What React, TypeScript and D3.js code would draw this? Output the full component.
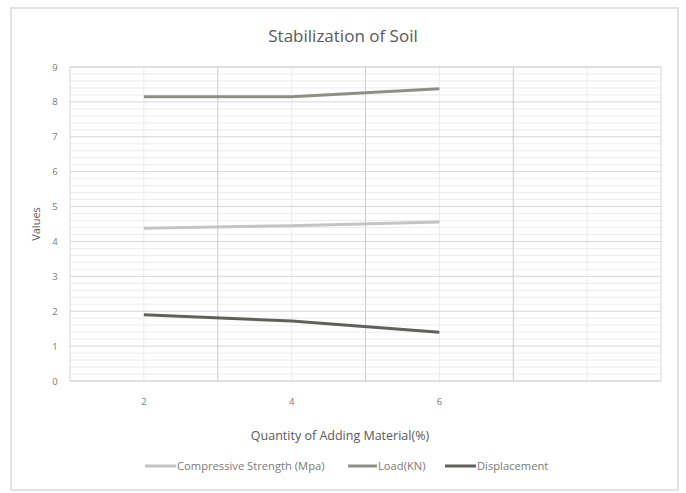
import React from "react";
import * as d3 from "d3";

const categories = ["2", "4", "6", ""];
const compressive = [4.38, 4.45, 4.56];
const load = [8.15, 8.15, 8.38];
const displacement = [1.9, 1.72, 1.4];
const yTicks = [0, 1, 2, 3, 4, 5, 6, 7, 8, 9];

const seriesNames = ["Compressive Strength (Mpa)", "Load(KN)", "Displacement"];
const seriesColors = ["#c4c4c4", "#8e9088", "#5f615b"];
const seriesData = [compressive, load, displacement];

const W = 686;
const H = 493;
const m = { left: 70, right: 661, top: 67, bottom: 381 };
const font = "'Open Sans', 'Liberation Sans', sans-serif";

export default function App() {
  const x = d3
    .scaleBand<string>()
    .domain(categories.map((c, i) => String(i)))
    .range([m.left, m.right])
    .padding(0);
  const y = d3.scaleLinear().domain([0, 9]).range([m.bottom, m.top]);
  const minor = d3.range(0, 9.001, 0.2).filter((v) => Math.abs(v - Math.round(v)) > 1e-6);
  const bw = x.bandwidth();
  const line = d3
    .line<number>()
    .x((d, i) => (x(String(i)) as number) + bw / 2)
    .y((d) => y(d));

  const boundaries = categories.map((_, i) => x(String(i)) as number).slice(1);
  const centers = categories.map((_, i) => (x(String(i)) as number) + bw / 2);

  const legend = [
    { lx: 145, tx: 177 },
    { lx: 348, tx: 378 },
    { lx: 445, tx: 477 },
  ];

  return (
    <svg width={W} height={H} style={{ position: "absolute", left: 0, top: 0, background: "#fff" }}>
      <rect x={11} y={8} width={667} height={482} fill="#fff" stroke="#d9d9d9" strokeWidth={1.5} />
      <text x={343} y={42} textAnchor="middle" fontFamily={font} fontSize={17} fill="#595959">
        Stabilization of Soil
      </text>
      {minor.map((v) => (
        <line key={"mn" + v} x1={m.left} x2={m.right} y1={y(v)} y2={y(v)} stroke="#ececec" strokeWidth={1} />
      ))}
      {centers.map((cx, i) => (
        <line key={"mv" + i} x1={cx} x2={cx} y1={m.top} y2={m.bottom} stroke="#ececec" strokeWidth={1} />
      ))}
      {yTicks.map((v) => (
        <line key={"g" + v} x1={m.left} x2={m.right} y1={y(v)} y2={y(v)} stroke="#d6d6d6" strokeWidth={1} />
      ))}
      {boundaries.map((bx, i) => (
        <line key={"v" + i} x1={bx} x2={bx} y1={m.top} y2={m.bottom} stroke="#cccccc" strokeWidth={1} />
      ))}
      <rect x={m.left} y={m.top} width={m.right - m.left} height={m.bottom - m.top} fill="none" stroke="#d6d6d6" strokeWidth={1} />
      {yTicks.map((v) => (
        <text key={"yt" + v} x={55} y={y(v) + 3.5} textAnchor="middle" fontFamily={font} fontSize={9.5} fill="#7a7a7a">
          {v}
        </text>
      ))}
      {categories.map((c, i) => (
        <text key={"xt" + i} x={centers[i]} y={405} textAnchor="middle" fontFamily={font} fontSize={9.5} fill="#7a7a7a">
          {c}
        </text>
      ))}
      <text x={0} y={0} transform={`translate(40,${(m.top + m.bottom) / 2}) rotate(-90)`} textAnchor="middle" fontFamily={font} fontSize={11} fill="#595959">
        Values
      </text>
      <text x={340} y={440} textAnchor="middle" fontFamily={font} fontSize={12.5} fill="#595959">
        Quantity of Adding Material(%)
      </text>
      {seriesData.map((d, i) => (
        <path key={"s" + i} d={line(d) || ""} fill="none" stroke={seriesColors[i]} strokeWidth={3} strokeLinejoin="round" />
      ))}
      {seriesNames.map((n, i) => (
        <g key={"l" + i}>
          <line x1={legend[i].lx} x2={legend[i].tx - 1} y1={466} y2={466} stroke={seriesColors[i]} strokeWidth={3} />
          <text x={legend[i].tx} y={470} fontFamily={font} fontSize={11.2} fill="#7a7a7a">
            {n}
          </text>
        </g>
      ))}
    </svg>
  );
}
